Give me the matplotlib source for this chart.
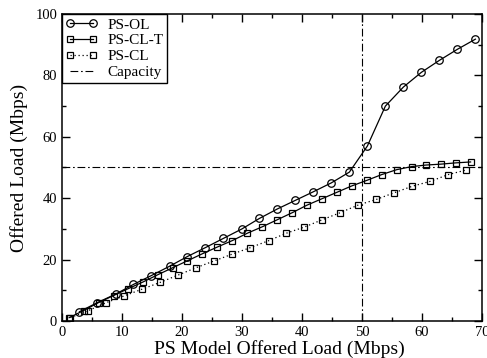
import matplotlib
matplotlib.use("Agg")
import matplotlib.pyplot as plt
from matplotlib.ticker import MultipleLocator

matplotlib.rcParams['font.family'] = 'Liberation Serif'

# PS open loop
ol_x = [2.9, 5.9, 9.0, 11.9, 14.9, 18.0, 20.9, 23.9, 26.9, 30.0, 32.9, 35.9,
        38.9, 41.9, 44.9, 47.9, 50.9, 53.9, 56.9, 59.9, 62.9, 65.9, 68.9]
ol_y = [3.0, 6.0, 8.8, 11.9, 14.8, 17.9, 21.0, 23.9, 26.9, 30.0, 33.4, 36.5,
        39.3, 42.1, 45.0, 48.5, 57.0, 70.0, 76.2, 81.0, 84.9, 88.5, 91.8]

# PS closed loop with throttling
clt_x = [1.2, 3.6, 6.1, 8.6, 11.0, 13.5, 16.0, 18.5, 20.9, 23.4, 25.9, 28.4,
         30.9, 33.4, 35.9, 38.4, 40.8, 43.3, 45.8, 48.3, 50.8, 53.3, 55.8,
         58.3, 60.7, 63.2, 65.6, 68.1]
clt_y = [1.1, 3.4, 6.0, 8.3, 10.5, 12.7, 15.1, 17.4, 19.6, 21.9, 24.1, 26.2,
         28.6, 30.7, 33.0, 35.3, 37.7, 39.8, 41.9, 44.0, 45.8, 47.7, 49.3,
         50.3, 50.8, 51.1, 51.5, 51.8]

# PS closed loop
cl_x = [1.4, 4.4, 7.4, 10.4, 13.4, 16.4, 19.4, 22.4, 25.4, 28.4, 31.4, 34.5,
        37.4, 40.4, 43.4, 46.4, 49.4, 52.4, 55.4, 58.4, 61.4, 64.4, 67.4]
cl_y = [1.1, 3.4, 6.0, 8.2, 10.4, 12.6, 15.0, 17.4, 19.6, 21.8, 23.9, 26.2,
        28.6, 30.6, 33.0, 35.3, 37.8, 39.6, 41.8, 43.9, 45.5, 47.7, 49.2]

capacity = 50

fig = plt.figure(figsize=(4.87, 3.58), dpi=100)
ax = fig.add_axes([0.1273, 0.1034, 0.8624, 0.8575])

mk = dict(markerfacecolor='none', markeredgecolor='black', markeredgewidth=0.9)
ax.plot(ol_x, ol_y, '-', color='black', lw=0.9, marker='o', markersize=5.4,
        label='PS-OL', **mk)
ax.plot(clt_x, clt_y, '-', color='black', lw=0.9, marker='s', markersize=4.0,
        label='PS-CL-T', **mk)
ax.plot(cl_x, cl_y, linestyle=(0, (1, 2.2)), color='black', lw=0.9, marker='s',
        markersize=4.0, label='PS-CL', **mk)
ax.axhline(capacity, color='black', lw=0.8, dashes=(7, 2.5, 1.5, 2.5),
           label='Capacity', zorder=1)
ax.axvline(capacity, color='black', lw=0.8, dashes=(7, 2.5, 1.5, 2.5), zorder=1)

ax.set_xlim(0, 70)
ax.set_ylim(0, 100)
ax.xaxis.set_major_locator(MultipleLocator(10))
ax.xaxis.set_minor_locator(MultipleLocator(5))
ax.yaxis.set_major_locator(MultipleLocator(20))
ax.yaxis.set_minor_locator(MultipleLocator(10))
ax.tick_params(which='both', direction='in', top=True, right=True,
               labelsize=10.5, width=1)
ax.tick_params(which='major', length=5.5, pad=3.5)
ax.tick_params(which='minor', length=3)
for s in ax.spines.values():
    s.set_linewidth(1.1)

ax.set_xlabel('PS Model Offered Load (Mbps)', fontsize=14)
ax.set_ylabel('Offered Load (Mbps)', fontsize=14, labelpad=5)
ax.xaxis.set_label_coords(0.517, -0.062)

leg = ax.legend(loc='upper left', fontsize=11, fancybox=False, framealpha=1,
                edgecolor='black', borderaxespad=0, handlelength=2.1,
                handletextpad=0.6, labelspacing=0.15, borderpad=0.25,
                numpoints=2)
leg.get_frame().set_linewidth(1.0)

fig.savefig('out.png', dpi=100)
plt.close(fig)
